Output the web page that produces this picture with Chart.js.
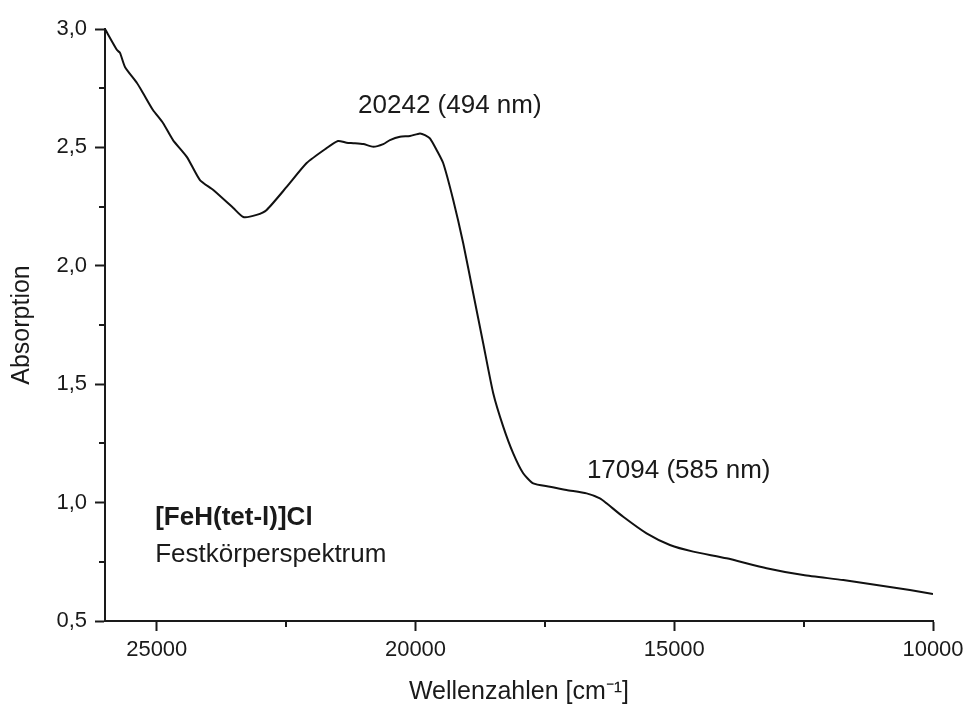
<!DOCTYPE html>
<html lang="de">
<head>
    <meta charset="utf-8">
    <title>[FeH(tet-l)]Cl - Festkörperspektrum</title>
    <script src="https://cdn.jsdelivr.net/npm/chart.js"></script>
    <style>
        html, body { margin: 0; padding: 0; background: #fff; }
        #spektrum { display: block; }
    </style>
</head>
<body>
    <canvas id="spektrum" width="967" height="711"></canvas>

    <script>
        // Wellenzahlen (cm-1) und Absorption
        let wellenzahlen = [26000, 25768, 25710, 25614, 25382, 25266, 25073, 24879, 24686, 24416,
                            24165, 23907, 23521, 23328, 23070, 22876, 22490, 22103, 21717, 21498,
                            21331, 21202, 21008, 20816, 20623, 20494, 20300, 20107, 19914, 19817,
                            19721, 19592, 19464, 19271, 19078, 18885, 18692, 18498, 18305, 18112,
                            17919, 17725, 17403, 17081, 16694, 16437, 16308, 15986, 15535, 15084,
                            14633, 13989, 13216, 12507, 11734, 11090, 10447, 10000];
        let absorption = [3.000, 2.911, 2.899, 2.840, 2.772, 2.730, 2.658, 2.603, 2.531, 2.459,
                          2.362, 2.320, 2.244, 2.206, 2.215, 2.236, 2.333, 2.434, 2.497, 2.527,
                          2.520, 2.518, 2.514, 2.503, 2.514, 2.531, 2.545, 2.548, 2.559, 2.552,
                          2.538, 2.489, 2.433, 2.278, 2.095, 1.884, 1.673, 1.462, 1.321, 1.208,
                          1.124, 1.081, 1.067, 1.053, 1.039, 1.018, 0.997, 0.940, 0.870, 0.821,
                          0.793, 0.765, 0.723, 0.694, 0.673, 0.652, 0.631, 0.614];

        // Achsenstriche (Haupt- und Nebenstriche)
        let xStriche = [10000, 12500, 15000, 17500, 20000, 22500, 25000];
        let yStriche = [0.5, 0.75, 1.0, 1.25, 1.5, 1.75, 2.0, 2.25, 2.5, 2.75, 3.0];

        // Beschriftungen im Diagramm
        let beschriftungen = [
            { text: "20242 (494 nm)", x: 21110, y: 2.645, bold: false },
            { text: "17094 (585 nm)", x: 16688, y: 1.104, bold: false },
            { text: "[FeH(tet-l)]Cl", x: 25030, y: 0.905, bold: true },
            { text: "Festkörperspektrum", x: 25030, y: 0.749, bold: false }
        ];

        const schrift = "'Liberation Sans', Arial, Helvetica, sans-serif";
        const farbe = "#1a1a1a";

        const istHauptX = v => v % 5000 === 0;
        const istHauptY = v => Math.abs(v * 2 - Math.round(v * 2)) < 1e-6;

        // Nebenstriche und Texte
        const extras = {
            id: 'extras',
            afterDraw(chart) {
                const { ctx, scales: { x, y } } = chart;
                ctx.save();
                ctx.strokeStyle = farbe;
                ctx.lineWidth = 2;
                x.ticks.forEach(t => {
                    if (!istHauptX(t.value)) {
                        let px = Math.round(x.getPixelForValue(t.value));
                        ctx.beginPath();
                        ctx.moveTo(px, y.bottom);
                        ctx.lineTo(px, y.bottom + 6);
                        ctx.stroke();
                    }
                });
                y.ticks.forEach(t => {
                    if (!istHauptY(t.value)) {
                        let py = Math.round(y.getPixelForValue(t.value));
                        ctx.beginPath();
                        ctx.moveTo(x.left, py);
                        ctx.lineTo(x.left - 6, py);
                        ctx.stroke();
                    }
                });

                ctx.fillStyle = farbe;
                ctx.textAlign = 'left';
                ctx.textBaseline = 'alphabetic';
                beschriftungen.forEach(b => {
                    ctx.font = (b.bold ? 'bold ' : '') + '26px ' + schrift;
                    ctx.fillText(b.text, x.getPixelForValue(b.x), y.getPixelForValue(b.y));
                });
                ctx.restore();
            }
        };

        new Chart(document.getElementById('spektrum'), {
            type: 'line',
            data: {
                datasets: [{
                    data: wellenzahlen.map((w, i) => ({ x: w, y: absorption[i] })),
                    borderColor: '#111',
                    borderWidth: 2,
                    pointRadius: 0,
                    fill: false,
                    tension: 0.2
                }]
            },
            options: {
                responsive: false,
                animation: false,
                layout: { padding: { top: 29, right: 34, left: 0, bottom: 0 } },
                plugins: {
                    legend: { display: false },
                    tooltip: { enabled: false }
                },
                scales: {
                    x: {
                        type: 'linear',
                        reverse: true,
                        min: 10000,
                        max: 26000,
                        afterBuildTicks: s => { s.ticks = xStriche.map(v => ({ value: v })); },
                        afterFit: s => { s.height = 90; },
                        border: { display: true, color: farbe, width: 2 },
                        grid: {
                            drawOnChartArea: false,
                            drawTicks: true,
                            tickLength: 10,
                            tickWidth: 2,
                            tickColor: c => istHauptX(c.tick.value) ? farbe : 'rgba(0,0,0,0)'
                        },
                        ticks: {
                            maxRotation: 0,
                            autoSkip: false,
                            padding: 6,
                            color: farbe,
                            font: { family: schrift, size: 22 },
                            callback: v => istHauptX(v) ? String(v) : ''
                        },
                        title: {
                            display: true,
                            text: 'Wellenzahlen [cm\u207B\u00B9]',
                            color: farbe,
                            font: { family: schrift, size: 25 },
                            padding: { top: 0, bottom: 4 }
                        }
                    },
                    y: {
                        min: 0.5,
                        max: 3.0,
                        afterBuildTicks: s => { s.ticks = yStriche.map(v => ({ value: v })); },
                        afterFit: s => { s.width = 105; },
                        border: { display: true, color: farbe, width: 2 },
                        grid: {
                            drawOnChartArea: false,
                            drawTicks: true,
                            tickLength: 10,
                            tickWidth: 2,
                            tickColor: c => istHauptY(c.tick.value) ? farbe : 'rgba(0,0,0,0)'
                        },
                        ticks: {
                            autoSkip: false,
                            padding: 8,
                            color: farbe,
                            font: { family: schrift, size: 22 },
                            callback: v => istHauptY(v) ? v.toFixed(1).replace('.', ',') : ''
                        },
                        title: {
                            display: true,
                            text: 'Absorption',
                            color: farbe,
                            font: { family: schrift, size: 25 },
                            padding: { top: 7, bottom: 0 }
                        }
                    }
                }
            },
            plugins: [extras]
        });
    </script>
</body>
</html>
